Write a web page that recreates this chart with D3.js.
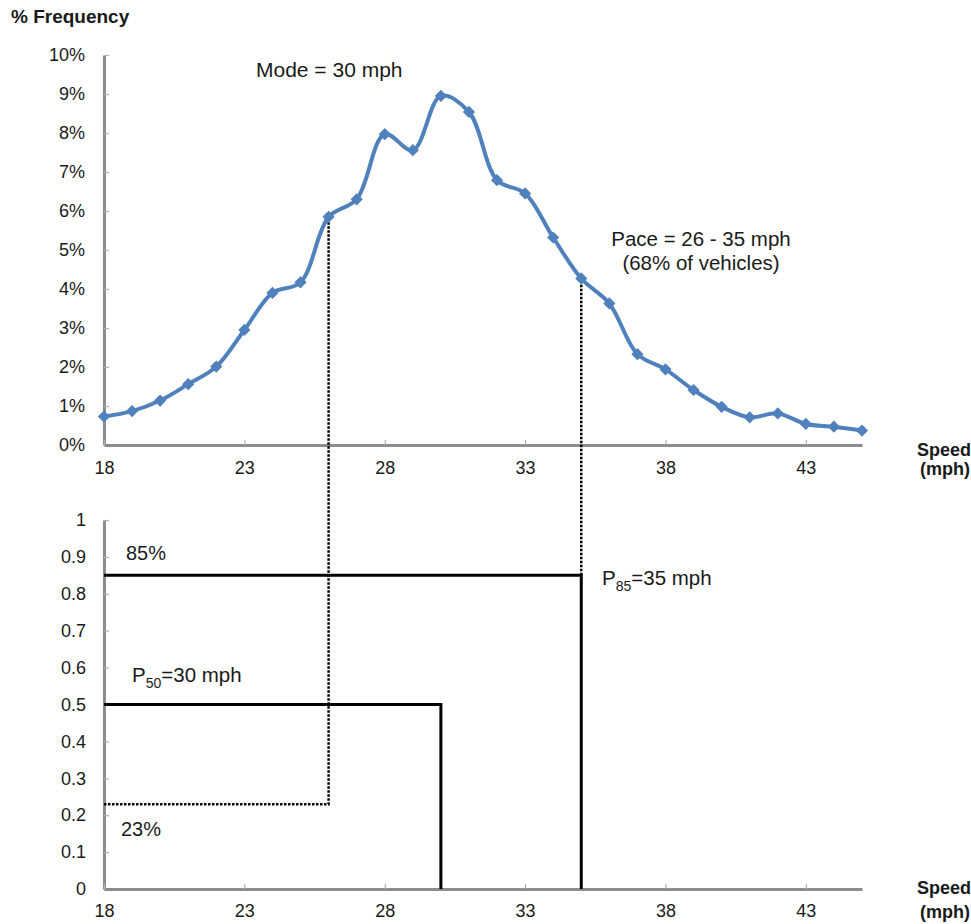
<!DOCTYPE html>
<html><head><meta charset="utf-8">
<script src="https://cdn.jsdelivr.net/npm/d3@7"></script>
<style>
body{margin:0;background:#fff;}
text{font-family:"Liberation Sans",Arial,sans-serif;fill:#1a1a1a;}
</style></head>
<body><svg id="c" width="971" height="924"></svg>
<script>
const speeds = d3.range(18, 46);
const freq = [0.73,0.87,1.14,1.56,2.01,2.95,3.90,4.17,5.85,6.30,7.97,7.56,8.95,8.54,6.79,6.45,5.32,4.27,3.63,2.33,1.94,1.41,0.98,0.71,0.81,0.54,0.47,0.37];
const xTicks = [18,23,28,33,38,43];
const yTopTicks = [0,1,2,3,4,5,6,7,8,9,10];
const yBotTicks = [0,0.1,0.2,0.3,0.4,0.5,0.6,0.7,0.8,0.9,1];
const p50 = {speed:30, cum:0.5};
const p85 = {speed:35, cum:0.85};
const pace = {lo:26, hi:35, cumLo:0.23};

const svg = d3.select("#c");
const x = d3.scaleLinear().domain([18,45]).range([104,862]);
const yT = d3.scaleLinear().domain([0,10]).range([445,55]);
const yB = d3.scaleLinear().domain([0,1]).range([889,520]);
const axisCol = "#8c8c8c";
const FONT = "Liberation Sans, Arial, sans-serif";

function styleAxis(g){
  g.select(".domain").attr("stroke",axisCol).attr("stroke-width",3);
  g.selectAll(".tick line").attr("stroke","#b0b0b0").attr("stroke-width",1.2);
  g.selectAll(".tick text").attr("fill","#1a1a1a").style("font-size","18px").style("font-family",FONT);
}
// top axes
const gyT = svg.append("g").attr("transform","translate(104,0)")
  .call(d3.axisLeft(yT).tickValues(yTopTicks).tickFormat(d=>d+"%").tickSizeInner(-5).tickSizeOuter(0).tickPadding(19));
styleAxis(gyT);
const gxT = svg.append("g").attr("transform","translate(0,445)")
  .call(d3.axisBottom(x).tickValues(xTicks).tickFormat(d3.format("d")).tickSizeInner(-5).tickSizeOuter(0).tickPadding(16));
styleAxis(gxT);
// bottom axes
const gyB = svg.append("g").attr("transform","translate(104,0)")
  .call(d3.axisLeft(yB).tickValues(yBotTicks).tickFormat(d=>d===0||d===1?d:d.toFixed(1)).tickSizeInner(-5).tickSizeOuter(0).tickPadding(18));
styleAxis(gyB);
const gxB = svg.append("g").attr("transform","translate(0,889)")
  .call(d3.axisBottom(x).tickValues(xTicks).tickFormat(d3.format("d")).tickSizeInner(-5).tickSizeOuter(0).tickPadding(15));
styleAxis(gxB);

// titles
svg.append("text").attr("x",11).attr("y",23).style("font-weight","bold").style("font-size","19px").text("% Frequency");
[[456,475],[894,918]].forEach(([a,b])=>{
  svg.append("text").attr("x",971).attr("y",a).attr("text-anchor","end").style("font-weight","bold").style("font-size","18px").text("Speed");
  svg.append("text").attr("x",970).attr("y",b).attr("text-anchor","end").style("font-weight","bold").style("font-size","18px").text("(mph)");
});

// cumulative lines (solid)
const solid = d3.line().x(d=>x(d[0])).y(d=>yB(d[1]));
svg.append("path").attr("d",solid([[18,p85.cum],[p85.speed,p85.cum],[p85.speed,0]])).attr("fill","none").attr("stroke","#000").attr("stroke-width",3);
svg.append("path").attr("d",solid([[18,p50.cum],[p50.speed,p50.cum],[p50.speed,0]])).attr("fill","none").attr("stroke","#000").attr("stroke-width",3);
// dotted lines
const fLo = freq[speeds.indexOf(pace.lo)], fHi = freq[speeds.indexOf(pace.hi)];
svg.append("path").attr("d",`M${x(18)},${yB(pace.cumLo)}H${x(pace.lo)}V${yT(fLo)}`)
  .attr("fill","none").attr("stroke","#000").attr("stroke-width",2.5).attr("stroke-dasharray","2.5,1.5");
svg.append("path").attr("d",`M${x(pace.hi)},${yB(p85.cum)}V${yT(fHi)}`)
  .attr("fill","none").attr("stroke","#000").attr("stroke-width",2.5).attr("stroke-dasharray","2.5,1.5");

// frequency curve
const data = speeds.map((s,i)=>[s,freq[i]]);
const line = d3.line().x(d=>x(d[0])).y(d=>yT(d[1])).curve(d3.curveCatmullRom.alpha(0.5));
svg.append("path").attr("d",line(data)).attr("fill","none").attr("stroke","#4f81bd").attr("stroke-width",4);
svg.selectAll(".mk").data(data).enter().append("path")
  .attr("transform",d=>`translate(${x(d[0])},${yT(d[1])})`)
  .attr("d",d3.symbol().type(d3.symbolDiamond2).size(95)).attr("fill","#4f81bd");

// annotations
svg.append("text").attr("x",256).attr("y",77).style("font-size","21px").text("Mode = 30 mph");
svg.append("text").attr("x",701).attr("y",246).attr("text-anchor","middle").style("font-size","20.5px").text("Pace = 26 - 35 mph");
svg.append("text").attr("x",701).attr("y",270).attr("text-anchor","middle").style("font-size","20.5px").text("(68% of vehicles)");
svg.append("text").attr("x",126).attr("y",560).style("font-size","20px").text("85%");
svg.append("text").attr("x",121).attr("y",836).style("font-size","20px").text("23%");
const t50 = svg.append("text").attr("x",132).attr("y",682).style("font-size","20.5px");
t50.append("tspan").text("P");
t50.append("tspan").attr("dy",6).style("font-size","14px").text("50");
t50.append("tspan").attr("dy",-6).text("=30 mph");
const t85 = svg.append("text").attr("x",602).attr("y",585).style("font-size","20.5px");
t85.append("tspan").text("P");
t85.append("tspan").attr("dy",6).style("font-size","14px").text("85");
t85.append("tspan").attr("dy",-6).text("=35 mph");
</script></body></html>
